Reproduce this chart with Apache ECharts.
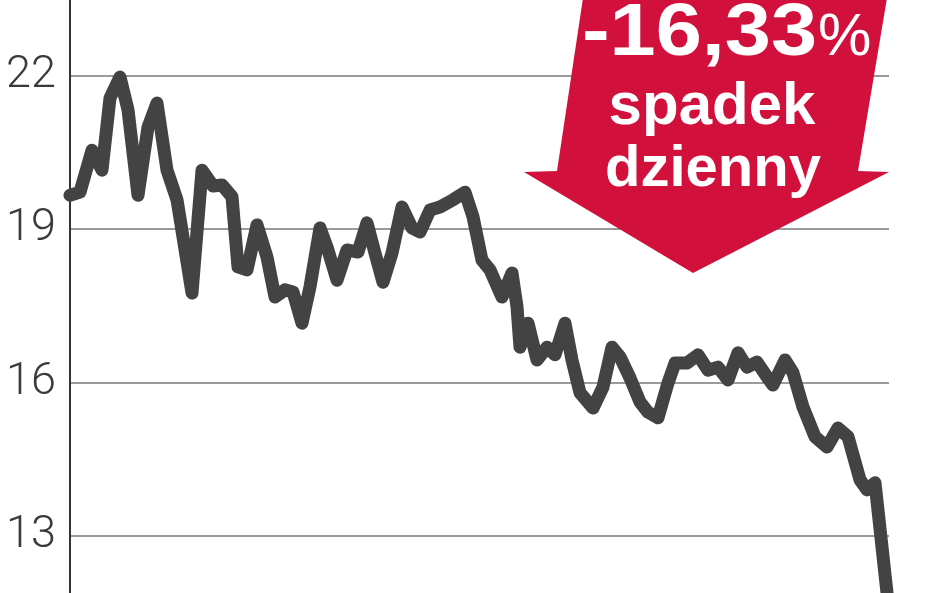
<!DOCTYPE html>
<html>
<head>
<meta charset="utf-8">
<script src="https://cdn.jsdelivr.net/npm/echarts@6/dist/echarts.min.js"></script>
<style>
html,body{margin:0;padding:0;background:#fff;}
#chart{width:948px;height:593px;}
</style>
</head>
<body>
<div id="chart"></div>
<script>
// trading-day positions (approximate) and closing prices
const days = [0,2,4.4,6.4,8,10,11.6,13.6,15.6,17.4,19.4,21.4,24.4,26.4,28.6,30.4,32.4,33.6,35.4,37.4,39.4,41,43,44.6,46.4,48,50,51.4,53.4,55.4,57.6,59.4,61,62.6,64.4,66.4,68.4,70,72,74,76.6,79,80.6,82.4,84,86.4,88.4,89.4,90,91.6,93.4,95.4,97,99,100.4,102,104.6,106.6,108.4,110,112,114,115.6,117.6,119.6,121,123.4,125.6,127.6,129.6,131.6,133.6,135.4,137.4,139.4,140.6,143,144.6,146.6,149,151.4,153.6,155.6,158,159.4,161,163.6];
const prices = [19.66,19.72,20.54,20.15,21.56,21.97,21.33,19.66,20.99,21.46,20.15,19.57,17.75,20.15,19.84,19.86,19.63,18.26,18.20,19.08,18.45,17.67,17.81,17.77,17.16,17.87,19.02,18.65,18.00,18.59,18.55,19.12,18.53,17.96,18.53,19.43,19.02,18.94,19.37,19.43,19.57,19.72,19.24,18.39,18.20,17.67,18.14,17.48,16.69,17.16,16.44,16.69,16.54,17.16,16.44,15.80,15.50,15.91,16.69,16.50,16.09,15.62,15.42,15.31,15.99,16.38,16.38,16.54,16.24,16.30,16.05,16.58,16.30,16.40,16.11,15.95,16.44,16.19,15.52,14.94,14.74,15.11,14.94,14.10,13.90,14.04,11.71];
const yTicks = [13,16,19,22];
const calloutValue = '-16,33';
const calloutUnit = '%';
const calloutLines = ['spadek','dzienny'];

const chart = echarts.init(document.getElementById('chart'), null, {renderer:'canvas'});
const seriesData = days.map((d,i)=>[d,prices[i]]);
chart.setOption({
  animation:false,
  backgroundColor:'#ffffff',
  grid:{left:70,right:59,top:-78,bottom:-96.5,containLabel:false,outerBoundsMode:'none'},
  xAxis:{type:'value',min:0,max:163.8,show:false,splitLine:{show:false}},
  yAxis:{
    type:'value',min:10,max:25,interval:3,
    axisLine:{show:true,lineStyle:{color:'#333',width:2}},
    axisTick:{show:false},
    axisLabel:{
      margin:14,fontSize:45,color:'#3a3a3a',fontFamily:'Roboto',fontWeight:300,
      formatter:v=>yTicks.indexOf(v)>=0?String(v):''
    },
    splitLine:{show:true,lineStyle:{color:'#9a9a9a',width:2}}
  },
  series:[{
    type:'line',data:seriesData,symbol:'none',clip:false,
    lineStyle:{color:'#434343',width:13,cap:'round',join:'round'},
    z:3
  }],
  graphic:[
    {type:'polygon',z:10,shape:{points:[[583,-2],[887,-2],[858,171],[889,172],[693,273],[524,172],[557,171]]},
     style:{fill:'#d1113b'}},
    {type:'text',z:11,x:582,y:72,scaleX:1.12,originX:0,originY:0,style:{x:0,y:0,text:calloutValue,fill:'#fff',
      font:'bold 74px "Liberation Sans", Arial, sans-serif',textAlign:'left',textVerticalAlign:'bottom'}},
    {type:'text',z:11,style:{x:818,y:68,text:calloutUnit,fill:'#fff',
      font:'normal 60px "Liberation Sans", Arial, sans-serif',textAlign:'left',textVerticalAlign:'bottom'}},
    {type:'text',z:11,style:{x:712,y:137,text:calloutLines[0],fill:'#fff',
      font:'bold 60px "Liberation Sans", Arial, sans-serif',textAlign:'center',textVerticalAlign:'bottom'}},
    {type:'text',z:11,style:{x:713,y:199,text:calloutLines[1],fill:'#fff',
      font:'bold 58px "Liberation Sans", Arial, sans-serif',textAlign:'center',textVerticalAlign:'bottom'}}
  ]
});
</script>
</body>
</html>
